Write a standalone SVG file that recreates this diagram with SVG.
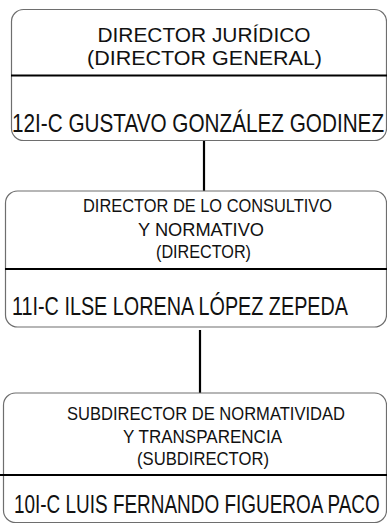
<svg xmlns="http://www.w3.org/2000/svg" width="387" height="524" viewBox="0 0 387 524">
<style>
.box{fill:#fff;stroke:#6e6e6e;stroke-width:1.2}
.sep{stroke:#000;stroke-width:2}
.conn{stroke:#000;stroke-width:2.2}
.t{font-family:"Liberation Sans",Arial,sans-serif;fill:#111;text-anchor:middle}
.n{font-family:"Liberation Sans",Arial,sans-serif;fill:#111}
</style>
<rect width="387" height="524" fill="#fff"/>
<g id="connectors">
<line class="conn" x1="204" y1="140" x2="204" y2="191"/>
<line class="conn" x1="200" y1="330" x2="200" y2="393"/>
</g>
<g id="node1">
<rect class="box" x="11.5" y="9.5" width="375" height="131" rx="12"/>
<line class="sep" x1="11" y1="75.5" x2="387" y2="75.5"/>
<text class="t" x="204" y="42" font-size="20" textLength="213" lengthAdjust="spacingAndGlyphs">DIRECTOR JURÍDICO</text>
<text class="t" x="204.5" y="65" font-size="20" textLength="235" lengthAdjust="spacingAndGlyphs">(DIRECTOR GENERAL)</text>
<text class="n" transform="translate(12 132) scale(0.79 1)" x="0" y="0" font-size="26" textLength="471" lengthAdjust="spacingAndGlyphs">12I-C GUSTAVO GONZÁLEZ GODINEZ</text>
</g>
<g id="node2">
<rect class="box" x="5.5" y="191" width="381" height="136" rx="12"/>
<line class="sep" x1="5" y1="269" x2="387" y2="269"/>
<text class="t" x="207.5" y="212" font-size="18" textLength="249" lengthAdjust="spacingAndGlyphs">DIRECTOR DE LO CONSULTIVO</text>
<text class="t" x="201" y="236" font-size="18" textLength="126" lengthAdjust="spacingAndGlyphs">Y NORMATIVO</text>
<text class="t" x="203.5" y="258" font-size="18" textLength="95" lengthAdjust="spacingAndGlyphs">(DIRECTOR)</text>
<text class="n" transform="translate(12 315) scale(0.8 1)" x="0" y="0" font-size="25" textLength="420" lengthAdjust="spacingAndGlyphs">11I-C ILSE LORENA LÓPEZ ZEPEDA</text>
</g>
<g id="node3">
<rect class="box" x="3.5" y="393" width="383" height="129.5" rx="12"/>
<line class="sep" x1="0" y1="475" x2="387" y2="475"/>
<text class="t" x="206" y="420" font-size="18" textLength="278" lengthAdjust="spacingAndGlyphs">SUBDIRECTOR DE NORMATIVIDAD</text>
<text class="t" x="202.5" y="443" font-size="18" textLength="159" lengthAdjust="spacingAndGlyphs">Y TRANSPARENCIA</text>
<text class="t" x="203" y="465" font-size="18" textLength="132" lengthAdjust="spacingAndGlyphs">(SUBDIRECTOR)</text>
<text class="n" transform="translate(14 513) scale(0.72 1)" x="0" y="0" font-size="26" textLength="508" lengthAdjust="spacingAndGlyphs">10I-C LUIS FERNANDO FIGUEROA PACO</text>
</g>
</svg>
